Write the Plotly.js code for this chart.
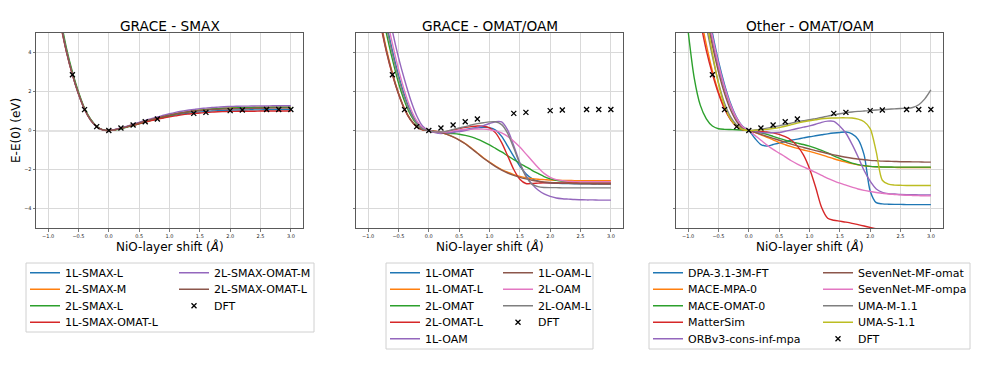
<!DOCTYPE html>
<html>
<head>
<meta charset="utf-8">
<script src="https://cdn.plot.ly/plotly-3.0.1.min.js"></script>
<style>html,body{margin:0;padding:0;background:#fff}#chart{width:996px;height:369px}</style>
</head>
<body>
<div id="chart"></div>
<script>
// ---------------- data ----------------
const shift = [-1.0,-0.9,-0.8,-0.7,-0.6,-0.5,-0.4,-0.3,-0.2,-0.1,0.0,0.1,0.2,0.3,0.4,0.5,0.6,0.7,0.8,0.9,1.0,1.1,1.2,1.3,1.4,1.5,1.6,1.7,1.8,1.9,2.0,2.1,2.2,2.3,2.4,2.5,2.6,2.7,2.8,2.9,3.0];

const dftShift  = [-0.6,-0.4,-0.2,0.0,0.2,0.4,0.6,0.8,1.4,1.6,2.0,2.2,2.6,2.8,3.0];
const dftEnergy = [2.86,1.07,0.2,0.0,0.13,0.28,0.45,0.59,0.88,0.93,1.02,1.05,1.08,1.08,1.08];

// Panel 1: GRACE - SMAX
const smaxNames = ['1L-SMAX-L','2L-SMAX-M','2L-SMAX-L','1L-SMAX-OMAT-L','2L-SMAX-OMAT-M','2L-SMAX-OMAT-L'];
const smax1L_L      = [9.0,7.2,5.6,4.1,2.9,1.9,1.1,0.55,0.2,0.03,0,0.04,0.11,0.19,0.28,0.36,0.45,0.53,0.6,0.67,0.73,0.79,0.84,0.88,0.92,0.95,0.98,1.0,1.02,1.03,1.04,1.05,1.05,1.06,1.06,1.06,1.07,1.07,1.07,1.07,1.07];
const smax2L_M      = [9.1,7.3,5.65,4.15,2.92,1.92,1.11,0.56,0.2,0.03,0,0.04,0.11,0.2,0.29,0.38,0.47,0.56,0.64,0.72,0.79,0.86,0.92,0.97,1.01,1.05,1.08,1.11,1.13,1.15,1.16,1.17,1.18,1.18,1.19,1.19,1.19,1.2,1.2,1.2,1.2];
const smax2L_L      = [9.2,7.4,5.8,4.25,3.0,1.98,1.15,0.58,0.22,0.04,0,0.03,0.09,0.17,0.25,0.34,0.43,0.52,0.61,0.69,0.77,0.84,0.9,0.95,1.0,1.04,1.07,1.1,1.12,1.14,1.15,1.16,1.17,1.17,1.18,1.18,1.18,1.19,1.19,1.19,1.19];
const smax1L_OMAT_L = [8.9,7.1,5.5,4.05,2.85,1.87,1.08,0.53,0.19,0.03,0,0.04,0.11,0.19,0.27,0.35,0.43,0.51,0.58,0.64,0.7,0.75,0.8,0.84,0.87,0.9,0.92,0.94,0.96,0.97,0.98,0.98,0.99,0.99,0.99,1.0,1.0,1.0,1.0,1.0,1.0];
const smax2L_OMAT_M = [9.0,7.2,5.6,4.1,2.88,1.88,1.09,0.54,0.19,0.03,0,0.05,0.13,0.22,0.32,0.42,0.52,0.61,0.7,0.78,0.86,0.93,0.99,1.04,1.08,1.12,1.15,1.18,1.2,1.22,1.23,1.24,1.25,1.25,1.26,1.26,1.26,1.27,1.27,1.27,1.27];
const smax2L_OMAT_L = [8.95,7.15,5.55,4.07,2.87,1.88,1.09,0.54,0.2,0.03,0,0.04,0.12,0.2,0.3,0.39,0.48,0.57,0.65,0.72,0.79,0.85,0.9,0.95,0.99,1.02,1.05,1.07,1.09,1.1,1.11,1.12,1.13,1.13,1.14,1.14,1.14,1.15,1.15,1.15,1.15];

// Panel 2: GRACE - OMAT/OAM
const omatNames = ['1L-OMAT','1L-OMAT-L','2L-OMAT','2L-OMAT-L','1L-OAM','1L-OAM-L','2L-OAM','2L-OAM-L'];
const g1L_OMAT   = [10.6,8.75,7.05,5.5,4.1,2.85,1.8,0.98,0.42,0.1,0,-0.08,-0.12,-0.1,-0.05,0.0,0.05,0.1,0.14,0.17,0.15,0.02,-0.3,-0.8,-1.33,-1.82,-2.22,-2.47,-2.6,-2.67,-2.7,-2.71,-2.72,-2.72,-2.73,-2.73,-2.73,-2.74,-2.74,-2.74,-2.74];
const g1L_OMAT_L = [9.2,7.35,5.7,4.2,2.95,1.93,1.12,0.56,0.2,0.03,0,-0.04,-0.1,-0.2,-0.33,-0.48,-0.67,-0.9,-1.15,-1.4,-1.62,-1.82,-2.0,-2.14,-2.26,-2.35,-2.42,-2.47,-2.5,-2.52,-2.54,-2.55,-2.56,-2.56,-2.57,-2.57,-2.57,-2.58,-2.58,-2.58,-2.58];
const g2L_OMAT   = [9.8,8.1,6.5,5.0,3.65,2.45,1.5,0.8,0.33,0.07,0,-0.07,-0.12,-0.14,-0.16,-0.19,-0.25,-0.33,-0.44,-0.58,-0.74,-0.92,-1.1,-1.3,-1.49,-1.68,-1.86,-2.04,-2.2,-2.36,-2.48,-2.56,-2.61,-2.64,-2.66,-2.67,-2.67,-2.68,-2.68,-2.68,-2.68];
const g2L_OMAT_L = [8.9,7.1,5.5,4.05,2.85,1.87,1.08,0.53,0.19,0.03,0,-0.08,-0.1,-0.05,0.03,0.1,0.16,0.2,0.23,0.22,0.14,-0.12,-0.62,-1.3,-2.0,-2.5,-2.72,-2.72,-2.7,-2.68,-2.68,-2.68,-2.69,-2.69,-2.69,-2.7,-2.7,-2.7,-2.7,-2.7,-2.7];
const g1L_OAM    = [12.5,10.4,8.45,6.7,5.1,3.75,2.6,1.58,0.76,0.22,0,-0.1,-0.15,-0.13,-0.1,-0.06,0.0,0.07,0.15,0.25,0.36,0.45,0.44,0.02,-0.78,-1.65,-2.3,-2.75,-3.05,-3.25,-3.38,-3.46,-3.5,-3.52,-3.54,-3.55,-3.56,-3.56,-3.57,-3.57,-3.57];
const g1L_OAM_L  = [9.0,7.2,5.6,4.1,2.9,1.9,1.1,0.55,0.2,0.03,0,-0.04,-0.1,-0.2,-0.33,-0.49,-0.68,-0.92,-1.17,-1.42,-1.64,-1.85,-2.03,-2.18,-2.3,-2.4,-2.48,-2.55,-2.6,-2.64,-2.67,-2.69,-2.7,-2.71,-2.72,-2.73,-2.73,-2.74,-2.74,-2.75,-2.75];
const g2L_OAM    = [11.3,9.35,7.55,5.9,4.45,3.15,2.03,1.13,0.5,0.13,0,-0.08,-0.1,-0.07,-0.03,0.02,0.05,0.07,0.08,0.07,0.04,-0.02,-0.12,-0.3,-0.55,-0.85,-1.2,-1.55,-1.9,-2.2,-2.4,-2.52,-2.58,-2.61,-2.62,-2.63,-2.63,-2.63,-2.63,-2.63,-2.63];
const g2L_OAM_L  = [10.6,8.75,7.0,5.35,3.92,2.7,1.68,0.9,0.37,0.08,0,-0.07,-0.08,-0.03,0.05,0.13,0.2,0.28,0.35,0.4,0.44,0.45,0.3,-0.15,-0.9,-1.7,-2.35,-2.75,-2.88,-2.92,-2.93,-2.93,-2.94,-2.94,-2.94,-2.94,-2.94,-2.94,-2.94,-2.94,-2.94];

// Panel 3: Other - OMAT/OAM
const otherNames = ['DPA-3.1-3M-FT','MACE-MPA-0','MACE-OMAT-0','MatterSim','ORBv3-cons-inf-mpa','SevenNet-MF-omat','SevenNet-MF-ompa','UMA-M-1.1','UMA-S-1.1'];
const dpa31       = [12.3,10.25,8.35,6.6,5.0,3.55,2.35,1.38,0.66,0.2,0,-0.4,-0.72,-0.8,-0.72,-0.64,-0.57,-0.5,-0.44,-0.38,-0.32,-0.27,-0.22,-0.17,-0.13,-0.1,-0.08,-0.17,-0.45,-1.25,-3.1,-3.7,-3.76,-3.78,-3.79,-3.79,-3.8,-3.8,-3.8,-3.8,-3.8];
const maceMpa     = [9.45,7.65,5.95,4.4,3.05,1.97,1.15,0.58,0.22,0.04,0,-0.1,-0.22,-0.35,-0.48,-0.62,-0.73,-0.83,-0.92,-1.0,-1.07,-1.16,-1.25,-1.35,-1.45,-1.54,-1.62,-1.7,-1.76,-1.81,-1.84,-1.86,-1.88,-1.89,-1.89,-1.9,-1.9,-1.9,-1.9,-1.9,-1.9];
const maceOmat    = [5.1,2.7,1.3,0.6,0.23,0.09,0.06,0.05,0.04,0.02,0,-0.05,-0.12,-0.2,-0.3,-0.4,-0.5,-0.58,-0.65,-0.72,-0.8,-0.9,-1.02,-1.15,-1.3,-1.43,-1.56,-1.67,-1.75,-1.8,-1.84,-1.86,-1.87,-1.87,-1.88,-1.88,-1.88,-1.88,-1.88,-1.88,-1.88];
const matterSim   = [9.0,7.2,5.6,4.1,2.9,1.9,1.1,0.55,0.2,0.03,0,-0.02,-0.05,-0.08,-0.12,-0.2,-0.32,-0.5,-0.8,-1.25,-1.95,-2.9,-3.95,-4.5,-4.6,-4.65,-4.7,-4.76,-4.83,-4.9,-4.97,-5.04,-5.1,-5.16,-5.22,-5.28,-5.34,-5.4,-5.46,-5.52,-5.58];
const orbV3       = [11.4,9.5,7.75,6.1,4.6,3.25,2.13,1.24,0.58,0.17,0,-0.06,-0.1,-0.12,-0.11,-0.1,-0.04,0.03,0.1,0.17,0.24,0.32,0.42,0.48,0.47,0.22,-0.14,-0.7,-1.35,-2.05,-2.6,-3.0,-3.17,-3.24,-3.26,-3.28,-3.29,-3.29,-3.3,-3.3,-3.3];
const sevenOmat   = [10.95,9.15,7.45,5.85,4.35,3.0,1.9,1.05,0.46,0.12,0,-0.1,-0.2,-0.3,-0.4,-0.5,-0.6,-0.7,-0.79,-0.87,-0.95,-1.03,-1.1,-1.18,-1.25,-1.31,-1.37,-1.42,-1.46,-1.5,-1.53,-1.55,-1.57,-1.58,-1.59,-1.6,-1.6,-1.61,-1.61,-1.62,-1.62];
const sevenOmpa   = [11.9,9.95,8.1,6.4,4.82,3.42,2.25,1.32,0.63,0.19,0,-0.25,-0.5,-0.75,-0.97,-1.16,-1.35,-1.55,-1.72,-1.87,-2.0,-2.15,-2.3,-2.45,-2.58,-2.7,-2.8,-2.9,-3.0,-3.07,-3.13,-3.18,-3.22,-3.26,-3.28,-3.3,-3.32,-3.33,-3.34,-3.35,-3.35];
const umaM        = [10.6,8.75,7.0,5.35,3.8,2.45,1.4,0.7,0.28,0.07,0,0.03,0.07,0.12,0.18,0.24,0.31,0.38,0.45,0.5,0.55,0.61,0.67,0.74,0.8,0.86,0.91,0.95,0.98,1.0,1.02,1.05,1.07,1.09,1.11,1.13,1.14,1.18,1.32,1.62,2.08];
const umaS        = [12.0,9.8,7.7,5.75,3.95,2.4,1.25,0.58,0.22,0.05,0,0.01,0.03,0.06,0.1,0.15,0.22,0.3,0.38,0.45,0.5,0.55,0.6,0.63,0.64,0.65,0.65,0.64,0.58,0.45,0.1,-1.1,-2.55,-2.75,-2.8,-2.81,-2.82,-2.82,-2.82,-2.82,-2.82];

const panelTitles = ['GRACE - SMAX','GRACE - OMAT/OAM','Other - OMAT/OAM'];
const xAxisTitle = 'NiO-layer shift (<i>Å</i>)';
const yAxisTitle = 'E-E(0) (eV)';
const xTickVals = [-1.0,-0.5,0.0,0.5,1.0,1.5,2.0,2.5,3.0];
const yTickVals = [-4,-2,0,2,4];

// ---------------- styling / layout ----------------
const COLORS = ['#1f77b4','#ff7f0e','#2ca02c','#d62728','#9467bd','#8c564b','#e377c2','#7f7f7f','#bcbd22'];
const FONT = 'DejaVu Sans, Verdana, sans-serif';
const W = 996, H = 369;
const PL = 36, PW = 907, PT = 33, PH = 195;            // plot-area box in px
const panelPx = [[36,303],[356,623],[676,943]];
const domains = panelPx.map(([a,b]) => [(a-PL)/PW, (b-PL)/PW]);
const rowCenters = [272.7, 289.2, 305.7, 322.2, 338.7];
const pyToPaper = py => (PT + PH - py) / PH;
const pxToPaper = px => (px - PL) / PW;

const panels = [
  {names: smaxNames,  series: [smax1L_L, smax2L_M, smax2L_L, smax1L_OMAT_L, smax2L_OMAT_M, smax2L_OMAT_L], col1: 4, colX: [30,179], ew: 104, box: [26,314,263,332]},
  {names: omatNames,  series: [g1L_OMAT, g1L_OMAT_L, g2L_OMAT, g2L_OMAT_L, g1L_OAM, g1L_OAM_L, g2L_OAM, g2L_OAM_L], col1: 5, colX: [390,503], ew: 68, box: [386,593,263,349]},
  {names: otherNames, series: [dpa31, maceMpa, maceOmat, matterSim, orbV3, sevenOmat, sevenOmpa, umaM, umaS], col1: 5, colX: [653,823], ew: 125, box: [649,970,263,349]}
];

const layout = {
  width: W, height: H,
  margin: {l: PL, r: W - PL - PW, t: PT, b: H - PT - PH, autoexpand: false},
  paper_bgcolor: '#fff', plot_bgcolor: '#fff',
  font: {family: FONT, color: '#000'},
  showlegend: true,
  hovermode: false,
  annotations: [{
    text: yAxisTitle, xref: 'paper', yref: 'paper', textangle: -90,
    x: pxToPaper(15.5), y: 0.5, xanchor: 'center', yanchor: 'middle', showarrow: false,
    font: {size: 12, family: FONT, color: '#000'}
  }],
  shapes: []
};

const traces = [];
let legendCount = 0;

panels.forEach((p, pi) => {
  const sfx = pi === 0 ? '' : String(pi + 1);
  const xa = 'x' + sfx, ya = 'y' + sfx;

  layout['xaxis' + sfx] = {
    domain: domains[pi], anchor: ya, range: [-1.2, 3.2],
    tickmode: 'array', tickvals: xTickVals, tickformat: '.1f',
    showgrid: true, gridcolor: '#d9d9d9', gridwidth: 1, zeroline: false,
    showline: true, mirror: true, linecolor: '#595959', linewidth: 1,
    ticks: 'outside', ticklen: 2.5, tickwidth: 0.8, tickcolor: '#595959',
    tickfont: {size: 5, color: '#222', family: FONT}
  };
  layout['yaxis' + sfx] = {
    domain: [0, 1], anchor: xa, range: [-5, 5],
    tickmode: 'array', tickvals: yTickVals, showticklabels: pi === 0,
    showgrid: true, gridcolor: '#d9d9d9', gridwidth: 1,
    zeroline: true, zerolinecolor: '#e2e2e2', zerolinewidth: 2,
    showline: true, mirror: true, linecolor: '#595959', linewidth: 1,
    ticks: 'outside', ticklen: 2.5, tickwidth: 0.8, tickcolor: '#595959',
    tickfont: {size: 5, color: '#222', family: FONT}
  };

  const cx = (domains[pi][0] + domains[pi][1]) / 2;
  // panel title
  layout.annotations.push({
    text: panelTitles[pi], xref: 'paper', yref: 'paper',
    x: cx, y: pyToPaper(25.7),
    xanchor: 'center', yanchor: 'middle', showarrow: false,
    font: {size: 13.7, family: FONT, color: '#000'}
  });
  // x-axis title
  layout.annotations.push({
    text: xAxisTitle, xref: 'paper', yref: 'paper',
    x: cx, y: pyToPaper(246),
    xanchor: 'center', yanchor: 'middle', showarrow: false,
    font: {size: 12, family: FONT, color: '#000'}
  });

  // legend frame
  const [bx0, bx1, by0, by1] = p.box;
  layout.shapes.push({
    type: 'rect', xref: 'paper', yref: 'paper', layer: 'below',
    x0: pxToPaper(bx0), x1: pxToPaper(bx1),
    y0: pyToPaper(by1), y1: pyToPaper(by0),
    line: {color: '#d0d0d0', width: 1}, fillcolor: '#ffffff'
  });

  // one legend per row (two columns, column-major like the reference)
  const rowIds = [];
  for (let r = 0; r < p.col1; r++) {
    legendCount++;
    const id = legendCount === 1 ? 'legend' : 'legend' + legendCount;
    rowIds.push(id);
    layout[id] = {
      orientation: 'h', xref: 'container', yref: 'container',
      x: (p.colX[0] - 5) / W, y: 1 - (rowCenters[r] - 14.5) / H,
      xanchor: 'left', yanchor: 'top',
      entrywidth: p.ew, entrywidthmode: 'pixels',
      bgcolor: 'rgba(0,0,0,0)', borderwidth: 0,
      font: {size: 11, family: FONT, color: '#000'},
      itemclick: false, itemdoubleclick: false
    };
  }

  p.series.forEach((s, i) => {
    const row = i < p.col1 ? i : i - p.col1;
    traces.push({
      type: 'scatter', mode: 'lines', x: shift, y: s, name: p.names[i],
      xaxis: xa, yaxis: ya, legend: rowIds[row],
      line: {color: COLORS[i], width: 1.4, shape: 'spline', smoothing: 0.8}
    });
  });
  traces.push({
    type: 'scatter', mode: 'markers', x: dftShift, y: dftEnergy, name: 'DFT',
    xaxis: xa, yaxis: ya, legend: rowIds[p.series.length - p.col1],
    marker: {symbol: 'x-thin', size: 5, color: '#000', line: {color: '#000', width: 1.3}}
  });
});

Plotly.newPlot('chart', traces, layout, {staticPlot: true, displayModeBar: false});
</script>
</body>
</html>
